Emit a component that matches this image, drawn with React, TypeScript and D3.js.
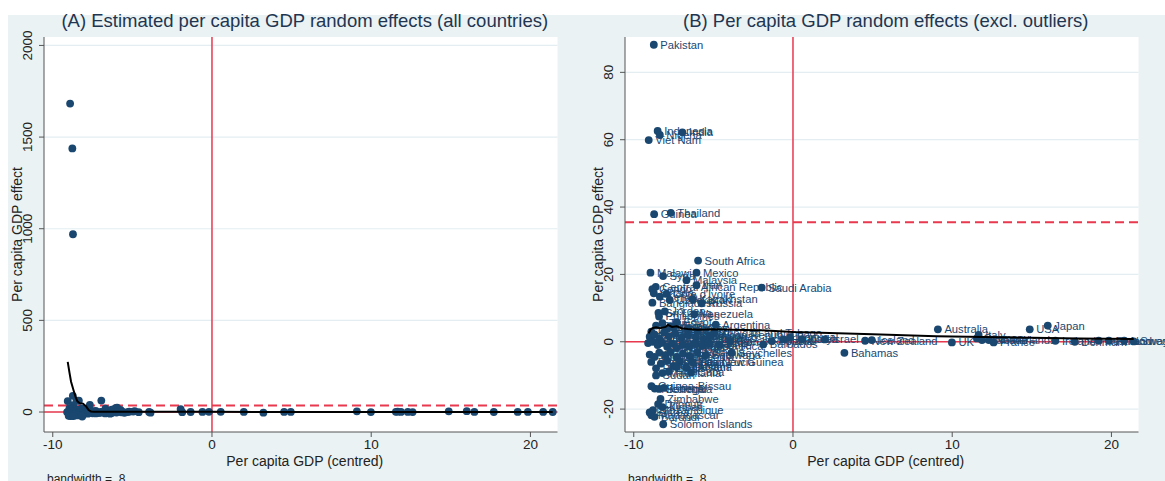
import React from 'react';
import * as d3 from 'd3';

const W = 1165;
const H = 481;
const FONT = "'Liberation Sans', Arial, Helvetica, sans-serif";
const BG = '#EAF2F3';
const NAVY = '#1A476F';
const RED = '#E8394F';

// ---- data ----
const countryNames = [
  'Pakistan', 'Indonesia', 'Nigeria', 'India', 'Viet Nam', 'Guinea', 'Thailand', 'South Africa',
  'Malawi', 'Mexico', 'Syria', 'Malaysia', 'Central African Republic', 'Iran', 'Saudi Arabia',
  'Congo', 'Ghana', "Cote d'Ivoire", 'Kenya', 'Kazakhstan', 'Uzbekistan', 'Bangladesh', 'Russia',
  'Jordan', 'Sri Lanka', 'Philippines', 'Venezuela', 'Egypt', 'Argentina', 'Morocco',
  'Trinidad and Tobago', 'Czech Republic', 'Barbados', 'Poland', 'Hungary', 'Portugal', 'Korea',
  'Israel', 'New Zealand', 'Iceland', 'Seychelles', 'Bahamas', 'Australia', 'UK', 'Italy', 'Germany',
  'Canada', 'Netherlands', 'France', 'USA', 'Japan', 'Ireland', 'Denmark', 'Austria', 'Finland',
  'Norway', 'Sweden',
  'Ecuador', 'Peru', 'Tunisia', 'Algeria', 'Colombia', 'Turkey', 'Brazil', 'Bolivia', 'Cameroon',
  'Yemen', 'Zambia', 'Honduras', 'Paraguay', 'Guatemala', 'Dominican Republic', 'Romania', 'Panama',
  'Uruguay', 'Nepal', 'Tanzania', 'Ethiopia', 'Myanmar', 'Mongolia', 'Albania', 'Armenia', 'Georgia',
  'Ukraine', 'Jamaica', 'Costa Rica', 'Lebanon', 'Chile', 'Niger', 'Chad', 'Mali', 'Benin', 'Togo',
  'Cambodia', 'Moldova', 'Fiji', 'Namibia', 'Botswana', 'Burkina Faso', 'Rwanda', 'Sierra Leone',
  'Lesotho', 'Gambia', 'Papua New Guinea', 'Guyana', 'Saint Lucia', 'Tajikistan', 'Haiti', 'Cuba',
  'Sudan', 'Mauritania', 'Guinea-Bissau', 'Nicaragua', 'Senegal', 'Liberia', 'Zimbabwe', 'Djibouti',
  'Kiribati', 'Mozambique', 'Madagascar', 'Eritrea', 'Burundi', 'Solomon Islands',
];
const gdpCentred = [
  -8.74, -8.5, -8.36, -6.95, -9.06, -8.72, -7.67, -5.96,
  -8.95, -6.06, -8.16, -6.69, -8.62, -6.06, -1.97,
  -8.83, -8.74, -7.95, -8.36, -6.3, -7.74, -8.83, -5.74,
  -8.05, -8.45, -8.41, -6.2, -7.3, -4.85, -7.7,
  -4.95, -3.95, -1.87, -1.34, -0.6, -0.19, 0.55,
  2.0, 4.53, 4.95, -3.86, 3.23, 9.1, 9.98, 11.66, 11.55,
  11.87, 12.3, 12.6, 14.87, 16.0, 16.48, 17.7, 19.2, 19.84,
  20.8, 21.4,
  -8.9, -8.6, -8.2, -7.9, -7.5, -6.6, -6.0, -9.0, -8.7,
  -8.4, -8.1, -7.8, -7.4, -7.0, -6.6, -6.1, -5.6,
  -5.2, -9.1, -8.8, -8.5, -8.2, -7.9, -7.6, -7.3, -6.9,
  -6.5, -6.1, -5.7, -5.3, -4.6, -9.0, -8.7, -8.4, -8.0, -7.7,
  -7.3, -6.9, -6.5, -6.0, -5.5, -8.9, -8.6, -8.3,
  -7.9, -7.5, -7.1, -6.7, -6.3, -7.3, -7.8, -6.4,
  -8.6, -8.2, -8.89, -8.68, -8.4, -8.1, -8.32, -8.47,
  -8.2, -8.79, -8.89, -9.0, -8.7, -8.15,
];
const gdpEffect = [
  88.2, 62.6, 61.4, 62.2, 59.9, 37.9, 38.3, 24.1,
  20.5, 20.5, 19.5, 18.3, 16.3, 16.8, 16.1,
  15.6, 14.4, 14.2, 13.4, 12.6, 12.4, 11.6, 11.4,
  9.0, 8.6, 7.5, 8.2, 5.8, 5.1, 4.6,
  2.6, 0.2, -0.8, 0.2, 0.7, 1.3, 0.8,
  0.7, 0.3, 0.5, -3.3, -3.3, 3.7, -0.2, 2.0, 1.0,
  0.5, 0.5, -0.2, 3.7, 4.8, 0.3, 0.0, 0.3, 0.3,
  0.3, 0.1,
  3.0, 4.8, 5.5, 3.8, 4.2, 4.0, 3.2, 1.5, 2.2,
  1.0, 2.8, 1.6, 2.4, 1.2, 2.0, 1.3, 0.8,
  1.8, -0.4, 0.0, -1.0, -0.3, -1.5, -0.6, -1.8, -0.8,
  -1.4, -0.5, -1.2, -0.2, -0.9, -3.8, -4.5, -3.2, -4.0, -3.0,
  -4.6, -3.5, -4.2, -3.1, -4.0, -6.0, -7.9, -6.5,
  -5.6, -7.2, -6.0, -7.6, -6.0, -7.5, -8.8, -9.1,
  -10.0, -9.3, -13.2, -13.9, -14.0, -13.7, -17.0, -18.5,
  -19.4, -20.3, -21.8, -21.0, -22.3, -24.5,
];
const outlierX = [-8.91, -8.77, -8.73];
const outlierY = [1683, 1438, 970];

const smoothAllX = [-9.06, -8.95, -8.85, -8.7, -8.55, -8.45, -8.3, -8.1, -7.9, -7.75, -7.6, -7.4, 0, 10, 21.4];
const smoothAllY = [274, 215, 165, 120, 78, 58, 48, 46, 30, 11, 3, 1, 0.8, 0.5, 0.3];
const smoothX = [-9.06, -8.95, -8.8, -8.6, -8.35, -8.2, -8.0, -7.85, -7.6, -7.3, -7.0, -6.6, -6.0, -5.0, -4.0, -2.0, 0, 2.3, 5.0, 9.0, 12.0, 15.0, 18.0, 21.4];
const smoothY = [2.5, 3.6, 4.1, 4.3, 4.0, 4.2, 4.4, 5.0, 4.4, 4.6, 4.0, 3.8, 3.6, 3.7, 3.6, 3.4, 2.9, 2.6, 2.2, 1.6, 1.4, 1.2, 1.0, 0.8];

const xTicks = [-10, 0, 10, 20];
const yTicksA = [0, 500, 1000, 1500, 2000];
const yTicksB = [-20, 0, 20, 40, 60, 80];
const cutoff = 35.5;

const X_DOMAIN = [-10.55, 21.7];
const PT = 37;
const PB = 432;

type PanelProps = {
  x0: number;
  x1: number;
  yDomain: number[];
  yTicks: number[];
  title: string;
  px: number[];
  py: number[];
  names?: string[];
  sx: number[];
  sy: number[];
  yTitleX: number;
  yLabX: number;
};

function Panel(p: PanelProps) {
  const x = d3.scaleLinear().domain(X_DOMAIN).range([p.x0, p.x1]);
  const y = d3.scaleLinear().domain(p.yDomain).range([PB, PT]);
  const line = d3
    .line<number>()
    .x((d) => x(d))
    .y((_d, i) => y(p.sy[i]));
  const cx = (p.x0 + p.x1) / 2 + 4;
  return (
    <g>
      <rect x={p.x0} y={PT} width={p.x1 - p.x0} height={PB - PT} fill="#ffffff" />
      {p.yTicks.map((t) => (
        <line key={'g' + t} x1={p.x0} x2={p.x1} y1={y(t)} y2={y(t)} stroke="#E4EEF2" strokeWidth={1.2} />
      ))}
      <line x1={x(0)} x2={x(0)} y1={PT} y2={PB} stroke={RED} strokeWidth={1.5} />
      <line x1={p.x0} x2={p.x1} y1={y(0)} y2={y(0)} stroke={RED} strokeWidth={1.5} />
      <line x1={p.x0} x2={p.x1} y1={y(cutoff)} y2={y(cutoff)} stroke={RED} strokeWidth={2} strokeDasharray="9 5" />
      {/* axes */}
      <line x1={p.x0} x2={p.x0} y1={PT} y2={PB} stroke="#555" strokeWidth={1} />
      <line x1={p.x0} x2={p.x1} y1={PB} y2={PB} stroke="#555" strokeWidth={1} />
      {p.yTicks.map((t) => (
        <g key={'yt' + t}>
          <line x1={p.x0 - 5} x2={p.x0} y1={y(t)} y2={y(t)} stroke="#555" strokeWidth={1} />
          <text
            transform={`translate(${p.yLabX},${y(t)}) rotate(-90)`}
            textAnchor="middle"
            fontSize={13.5}
            fill="#222"
            fontFamily={FONT}
          >
            {t}
          </text>
        </g>
      ))}
      {xTicks.map((t) => (
        <g key={'xt' + t}>
          <line x1={x(t)} x2={x(t)} y1={PB} y2={PB + 5} stroke="#555" strokeWidth={1} />
          <text x={x(t)} y={PB + 17} textAnchor="middle" fontSize={13.5} fill="#222" fontFamily={FONT}>
            {t}
          </text>
        </g>
      ))}
      {/* markers */}
      {p.px.map((v, i) => (
        <circle key={'m' + i} cx={x(v)} cy={y(p.py[i])} r={3.9} fill={NAVY} />
      ))}
      {p.names &&
        p.names.map((n, i) => (
          <text
            key={'l' + i}
            x={x(p.px[i]) + 6.5}
            y={y(p.py[i]) + 4}
            fontSize={11.2}
            fill={NAVY}
            fontFamily={FONT}
          >
            {n}
          </text>
        ))}
      <path d={line(p.sx) || ''} fill="none" stroke="#000" strokeWidth={2} />
      {/* titles */}
      <text x={cx} y={27} textAnchor="middle" fontSize={18.5} fill="#1F3550" fontFamily={FONT}>
        {p.title}
      </text>
      <text x={cx} y={466} textAnchor="middle" fontSize={14} fill="#222" fontFamily={FONT}>
        Per capita GDP (centred)
      </text>
      <text
        transform={`translate(${p.yTitleX},${(PT + PB) / 2}) rotate(-90)`}
        textAnchor="middle"
        fontSize={14}
        fill="#222"
        fontFamily={FONT}
      >
        Per capita GDP effect
      </text>
      <text x={p.x0 + 3} y={483} fontSize={12} fill="#222" fontFamily={FONT}>
        bandwidth = .8
      </text>
    </g>
  );
}

export default function App() {
  const allX = [...gdpCentred, ...outlierX];
  const allY = [...gdpEffect, ...outlierY];
  return (
    <svg
      width={W}
      height={H}
      viewBox={`0 0 ${W} ${H}`}
      style={{ position: 'absolute', left: 0, top: 0, background: '#fff' }}
    >
      <rect x={0} y={0} width={W} height={H} fill="#ffffff" />
      <rect x={8} y={15} width={W - 8} height={H - 15} fill={BG} />
      <Panel
        x0={44}
        x1={557.5}
        yDomain={[-109, 2046]}
        yTicks={yTicksA}
        title="(A) Estimated per capita GDP random effects (all countries)"
        px={allX}
        py={allY}
        sx={smoothAllX}
        sy={smoothAllY}
        yTitleX={22}
        yLabX={32}
      />
      <Panel
        x0={625}
        x1={1138.5}
        yDomain={[-26.8, 90.5]}
        yTicks={yTicksB}
        title="(B) Per capita GDP random effects (excl. outliers)"
        px={gdpCentred}
        py={gdpEffect}
        names={countryNames}
        sx={smoothX}
        sy={smoothY}
        yTitleX={603}
        yLabX={613}
      />
    </svg>
  );
}
